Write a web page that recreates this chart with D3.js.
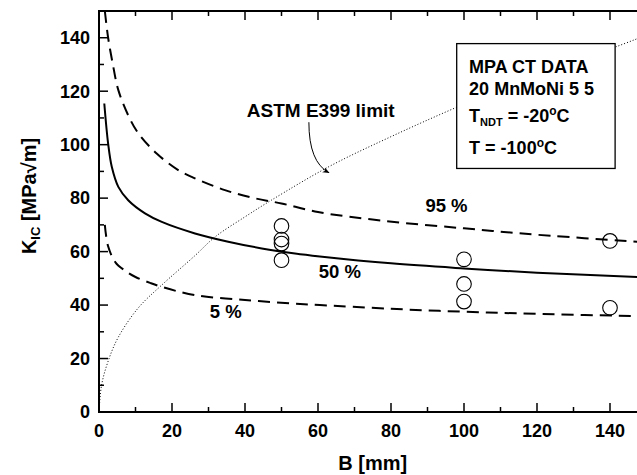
<!DOCTYPE html>
<html><head><meta charset="utf-8">
<script src="https://cdn.jsdelivr.net/npm/d3@7"></script>
<style>
html,body{margin:0;padding:0;background:#fff;overflow:hidden;}
svg{display:block;font-family:Arial,"Liberation Sans",Helvetica,sans-serif;font-weight:bold;}
</style></head>
<body>
<svg id="chart" width="637" height="475"></svg>
<script>
// ---- data ----
const xTicks = [0, 20, 40, 60, 80, 100, 120, 140];
const yTicks = [0, 20, 40, 60, 80, 100, 120, 140];

const p95B = [1.6, 2.5, 3.8, 5.3, 8, 10.8, 15.8, 21.7, 25.8, 34.5, 42.5, 50, 60, 78, 100, 120, 150];
const p95K = [150, 140, 130, 120.4, 111, 104.2, 96.7, 90.5, 87.7, 83, 80, 78, 74.8, 71.5, 68.7, 66.3, 63.5];

const p50B = [1.45, 2.5, 3.5, 5.3, 8, 12.6, 17.2, 26.3, 35.4, 44.6, 53.7, 60.5, 80, 100, 120, 150];
const p50K = [115.4, 100.4, 91.7, 84.2, 79.2, 74.3, 71.1, 66.8, 63.7, 61.2, 59.3, 58.2, 55.6, 53.7, 52.1, 50.4];

const p05B = [1.6, 2.5, 4.5, 7, 10, 14, 17.2, 26.3, 40, 52.8, 60.5, 80, 100, 120, 150];
const p05K = [70, 62, 56, 53, 50.5, 48.3, 46.8, 43.7, 41.9, 40.6, 40, 38.6, 37.5, 36.7, 35.8];

const astmB = [0, 0.7, 2.5, 5.3, 10.8, 17.2, 26.3, 31.8, 40, 47.3, 63.3, 80, 98, 120, 141.4, 150];
const astmK = [0, 10, 19, 28, 39, 47.5, 58.5, 65.5, 73, 79.3, 92, 103, 114, 126.5, 136.5, 141];

const dataB = [50, 50, 50, 50, 100, 100, 100, 140, 140];
const dataK = [69.6, 64.5, 63, 56.8, 57.1, 47.9, 41.3, 64, 39];

const curveLabels = [
  {text: "95 %", B: 95.2, K: 74.9},
  {text: "50 %", B: 66, K: 50.1},
  {text: "5 %", B: 34.7, K: 35.1}
];

// ---- layout ----
const svg = d3.select("#chart");
const m = {left: 99, top: 11};
const plotW = 547.5, plotH = 401;
const x = d3.scaleLinear().domain([0, 150]).range([m.left, m.left + plotW]);
const y = d3.scaleLinear().domain([0, 150]).range([m.top + plotH, m.top]);

const zip = (a, b) => a.map((v, i) => [v, b[i]]);
const line = d3.line().x(d => x(d[0])).y(d => y(d[1])).curve(d3.curveCatmullRom.alpha(0.5));

// ASTM dotted limit
svg.append("path").attr("d", line(zip(astmB, astmK)))
  .attr("fill", "none").attr("stroke", "#000").attr("stroke-width", 1)
  .attr("stroke-dasharray", "1,2");

// info box (white fill covers dotted line)
const box = svg.append("g");
box.append("rect")
  .attr("x", x(98)).attr("y", y(137.8))
  .attr("width", x(141.4) - x(98)).attr("height", y(91.1) - y(137.8))
  .attr("fill", "#fff").attr("stroke", "#000").attr("stroke-width", 1.3);
const bx = x(101.4);
const boxText = box.append("text").attr("font-size", 18);
boxText.append("tspan").attr("x", bx).attr("y", y(126.8)).text("MPA CT DATA");
boxText.append("tspan").attr("x", bx).attr("y", y(118.5)).text("20 MnMoNi 5 5");
const l3 = box.append("text").attr("font-size", 18).attr("x", bx).attr("y", y(108.3));
l3.append("tspan").text("T");
l3.append("tspan").attr("font-size", 11).attr("dy", 4).text("NDT");
l3.append("tspan").attr("dy", -4).text(" = -20");
l3.append("tspan").attr("font-size", 12).attr("dy", -7).text("o");
l3.append("tspan").attr("dy", 7).text("C");
const l4 = box.append("text").attr("font-size", 18).attr("x", bx).attr("y", y(96.5));
l4.append("tspan").text("T = -100");
l4.append("tspan").attr("font-size", 12).attr("dy", -7).text("o");
l4.append("tspan").attr("dy", 7).text("C");

// curves
svg.append("path").attr("d", line(zip(p95B, p95K)))
  .attr("fill", "none").attr("stroke", "#000").attr("stroke-width", 2)
  .attr("stroke-dasharray", "12,7");
svg.append("path").attr("d", line(zip(p05B, p05K)))
  .attr("fill", "none").attr("stroke", "#000").attr("stroke-width", 2)
  .attr("stroke-dasharray", "12,7");
svg.append("path").attr("d", line(zip(p50B, p50K)))
  .attr("fill", "none").attr("stroke", "#000").attr("stroke-width", 2);

// data points
svg.append("g").selectAll("circle").data(zip(dataB, dataK)).join("circle")
  .attr("cx", d => x(d[0])).attr("cy", d => y(d[1])).attr("r", 7.3)
  .attr("fill", "none").attr("stroke", "#000").attr("stroke-width", 1.1);

// curve labels
svg.append("g").selectAll("text").data(curveLabels).join("text")
  .attr("x", d => x(d.B)).attr("y", d => y(d.K)).attr("text-anchor", "middle")
  .attr("font-size", 18.5).text(d => d.text);

// ASTM annotation
svg.append("text").attr("x", x(40.5)).attr("y", y(110.3)).attr("font-size", 19)
  .text("ASTM E399 limit");
svg.append("defs").append("marker").attr("id", "arr")
  .attr("viewBox", "0 0 10 10").attr("refX", 9).attr("refY", 5)
  .attr("markerWidth", 7).attr("markerHeight", 7).attr("orient", "auto")
  .append("path").attr("d", "M0,1 L10,5 L0,9 L3,5 Z").attr("fill", "#000");
const a0 = [57.5, 108.4], ac = [57.5, 93.5], a1 = [63.0, 89.5];
svg.append("path")
  .attr("d", `M${x(a0[0])},${y(a0[1])} Q${x(ac[0])},${y(ac[1])} ${x(a1[0])},${y(a1[1])}`)
  .attr("fill", "none").attr("stroke", "#000").attr("stroke-width", 1)
  .attr("marker-end", "url(#arr)");

// axes
const minorX = d3.range(0, 151, 10), minorY = d3.range(0, 151, 10);
const ax = svg.append("g");
function axisLine(x1, y1, x2, y2) {
  ax.append("line").attr("x1", x1).attr("y1", y1).attr("x2", x2).attr("y2", y2)
    .attr("stroke", "#000").attr("stroke-width", 2).attr("stroke-linecap", "square");
}
axisLine(x(0), y(0), x(150), y(0));
axisLine(x(0), y(150), x(150), y(150));
axisLine(x(0), y(0), x(0), y(150));
axisLine(x(150), y(0), x(150), y(150));

minorX.forEach(v => {
  const len = v % 20 === 0 ? 9 : 5;
  ax.append("line").attr("x1", x(v)).attr("x2", x(v)).attr("y1", y(0)).attr("y2", y(0) - len)
    .attr("stroke", "#000").attr("stroke-width", 1.5);
  ax.append("line").attr("x1", x(v)).attr("x2", x(v)).attr("y1", y(150)).attr("y2", y(150) + len)
    .attr("stroke", "#000").attr("stroke-width", 1.5);
});
minorY.forEach(v => {
  const len = v % 20 === 0 ? 9 : 5;
  ax.append("line").attr("y1", y(v)).attr("y2", y(v)).attr("x1", x(0)).attr("x2", x(0) + len)
    .attr("stroke", "#000").attr("stroke-width", 1.5);
  ax.append("line").attr("y1", y(v)).attr("y2", y(v)).attr("x1", x(150)).attr("x2", x(150) - len)
    .attr("stroke", "#000").attr("stroke-width", 1.5);
});

ax.selectAll(".xl").data(xTicks).join("text")
  .attr("x", d => x(d)).attr("y", y(0) + 25).attr("text-anchor", "middle")
  .attr("font-size", 18).text(d => d);
ax.selectAll(".yl").data(yTicks).join("text")
  .attr("x", x(0) - 9).attr("y", d => y(d)).attr("dy", "0.35em").attr("text-anchor", "end")
  .attr("font-size", 18).text(d => d);

// axis titles
svg.append("text").attr("x", x(75)).attr("y", 470).attr("text-anchor", "middle")
  .attr("font-size", 20).text("B [mm]");
const yt = svg.append("text").attr("transform", "translate(36,196) rotate(-90)")
  .attr("text-anchor", "middle").attr("font-size", 20);
yt.append("tspan").text("K");
yt.append("tspan").attr("font-size", 13).attr("dy", 4).text("IC");
yt.append("tspan").attr("dy", -4).text(" [MPa\u221Am]");
</script>
</body></html>
